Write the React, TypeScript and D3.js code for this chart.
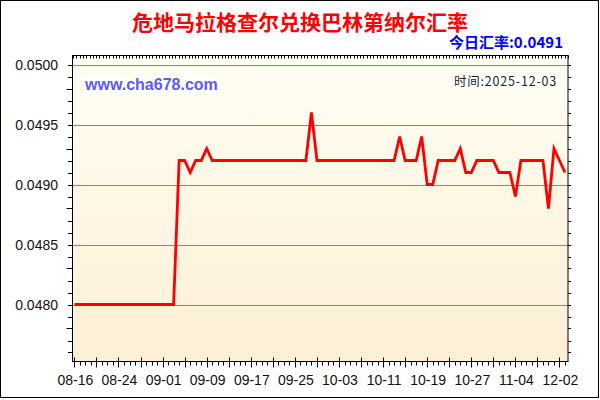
import React from 'react';
import * as d3 from 'd3';

const TITLE = '危地马拉格查尔兑换巴林第纳尔汇率';
const CURRENT_LABEL = '今日汇率:0.0491';
const DATE_LABEL = '时间:2025-12-03';
const WATERMARK = 'www.cha678.com';

const rates: number[] = [
  0.0480, 0.0480, 0.0480, 0.0480, 0.0480, 0.0480, 0.0480, 0.0480, 0.0480, 0.0480,
  0.0480, 0.0480, 0.0480, 0.0480, 0.0480, 0.0480, 0.0480, 0.0480, 0.0480, 0.0492,
  0.0492, 0.0491, 0.0492, 0.0492, 0.0493, 0.0492, 0.0492, 0.0492, 0.0492, 0.0492,
  0.0492, 0.0492, 0.0492, 0.0492, 0.0492, 0.0492, 0.0492, 0.0492, 0.0492, 0.0492,
  0.0492, 0.0492, 0.0492, 0.0496, 0.0492, 0.0492, 0.0492, 0.0492, 0.0492, 0.0492,
  0.0492, 0.0492, 0.0492, 0.0492, 0.0492, 0.0492, 0.0492, 0.0492, 0.0492, 0.0494,
  0.0492, 0.0492, 0.0492, 0.0494, 0.0490, 0.0490, 0.0492, 0.0492, 0.0492, 0.0492,
  0.0493, 0.0491, 0.0491, 0.0492, 0.0492, 0.0492, 0.0492, 0.0491, 0.0491, 0.0491,
  0.0489, 0.0492, 0.0492, 0.0492, 0.0492, 0.0492, 0.0488, 0.0493, 0.0492, 0.0491,
];

const xTickIndex = [0, 8, 16, 24, 32, 40, 48, 56, 64, 72, 80, 88];
const xTickLabels = ['08-16', '08-24', '09-01', '09-09', '09-17', '09-25', '10-03', '10-11', '10-19', '10-27', '11-04', '12-02'];
const yTicks = [0.0480, 0.0485, 0.0490, 0.0495, 0.0500];
const yTickLabels = ['0.0480', '0.0485', '0.0490', '0.0495', '0.0500'];

const W = 600;
const H = 400;
const PL = 73;
const PR = 568;
const PT = 55.5;
const PB = 361.5;

const NUM_FONT = '"Liberation Sans", Arial, sans-serif';
const CJK_FONT = '"Noto Sans CJK SC", "Liberation Sans", sans-serif';

export default function App() {
  const x = d3.scaleLinear().domain([0, rates.length - 1]).range([74.4, 565]);
  const y = d3.scaleLinear().domain([0.0480, 0.0500]).range([304.5, 64.5]);

  const line = d3
    .line<number>()
    .x((_, i) => x(i))
    .y((d) => y(d));

  const yMinor = d3.range(4760, 5001, 10).map((v) => v / 100000);
  const xMinor = d3.range(0, rates.length);
  const topTicks = d3.range(0, 151).map((k) => PL + (k * (PR - PL)) / 150);

  return (
    <svg
      width={W}
      height={H}
      viewBox={`0 0 ${W} ${H}`}
      style={{ position: 'absolute', left: 0, top: 0, background: '#fff' }}
    >
      <defs>
        <linearGradient id="bg" x1="0" y1="0" x2="0" y2="1">
          <stop offset="0%" stopColor="#FFFEF4" />
          <stop offset="100%" stopColor="#FDEFD5" />
        </linearGradient>
      </defs>
      <rect x={0} y={0} width={W} height={H} fill="#fff" />
      <rect x={0.5} y={0.5} width={598} height={397} fill="none" stroke="#000" strokeWidth={1} />

      <text
        x={300}
        y={30}
        textAnchor="middle"
        fontFamily={CJK_FONT}
        fontWeight="bold"
        fontSize={21}
        fill="#ff0000"
      >
        {TITLE}
      </text>
      <text
        x={563}
        y={48}
        textAnchor="end"
        fontFamily={CJK_FONT}
        fontWeight="bold"
        fontSize={15}
        fill="#0000ff"
      >
        {CURRENT_LABEL}
      </text>

      <rect x={PL} y={PT} width={PR - PL} height={PB - PT} fill="url(#bg)" />

      {yTicks.map((v) => (
        <line
          key={'g' + v}
          x1={PL}
          x2={PR}
          y1={Math.round(y(v)) + 0.5}
          y2={Math.round(y(v)) + 0.5}
          stroke="#B8860B"
          strokeWidth={1}
        />
      ))}

      <rect x={81.5} y={76.5} width={137} height={18} fill="#fff" />
      <text x={85} y={90} fontFamily={NUM_FONT} fontWeight="bold" fontSize={16} fill="#5B5BF5">
        {WATERMARK}
      </text>

      <rect x={453} y={75} width={105} height={13} fill="#fff" />
      <text
        x={557}
        y={86}
        textAnchor="end"
        fontFamily={CJK_FONT}
        fontSize={12.5}
        letterSpacing={0.8}
        fill="#222"
      >
        {DATE_LABEL}
      </text>

      <path d={line(rates) || ''} fill="none" stroke="#ff0000" strokeWidth={2.8} strokeLinejoin="miter" />

      <rect x={PL - 0.5} y={PT} width={PR - PL + 0.5} height={PB - PT} fill="none" stroke="#000" strokeWidth={1} />

      {yMinor.map((v, i) => {
        const yy = Math.round(y(v)) + 0.5;
        const major = i % 5 === 2;
        return (
          <g key={'yt' + i}>
            <line x1={major ? PL - 6.5 : PL - 5} x2={PL} y1={yy} y2={yy} stroke="#000" />
            <line x1={PR} x2={PR + 3} y1={yy} y2={yy} stroke="#000" />
          </g>
        );
      })}

      {topTicks.map((tx, i) => (
        <line key={'tt' + i} x1={Math.round(tx) + 0.5} x2={Math.round(tx) + 0.5} y1={PT} y2={PT + 3} stroke="#000" />
      ))}

      {xMinor.map((i) => {
        const xx = Math.round(x(i)) + 0.5;
        const major = i % 4 === 0;
        return (
          <line
            key={'xt' + i}
            x1={xx}
            x2={xx}
            y1={major ? PB - 4 : PB}
            y2={major ? PB + 6 : PB + 4}
            stroke="#000"
          />
        );
      })}

      {yTicks.map((v, i) => (
        <text
          key={'yl' + v}
          x={58}
          y={y(v) + 5}
          textAnchor="end"
          fontFamily={NUM_FONT}
          fontSize={14}
          fill="#111"
        >
          {yTickLabels[i]}
        </text>
      ))}

      {xTickIndex.map((idx, i) => (
        <text
          key={'xl' + idx}
          x={x(idx) + 1}
          y={385}
          textAnchor="middle"
          fontFamily={NUM_FONT}
          fontSize={14}
          fill="#111"
        >
          {xTickLabels[i]}
        </text>
      ))}
    </svg>
  );
}
